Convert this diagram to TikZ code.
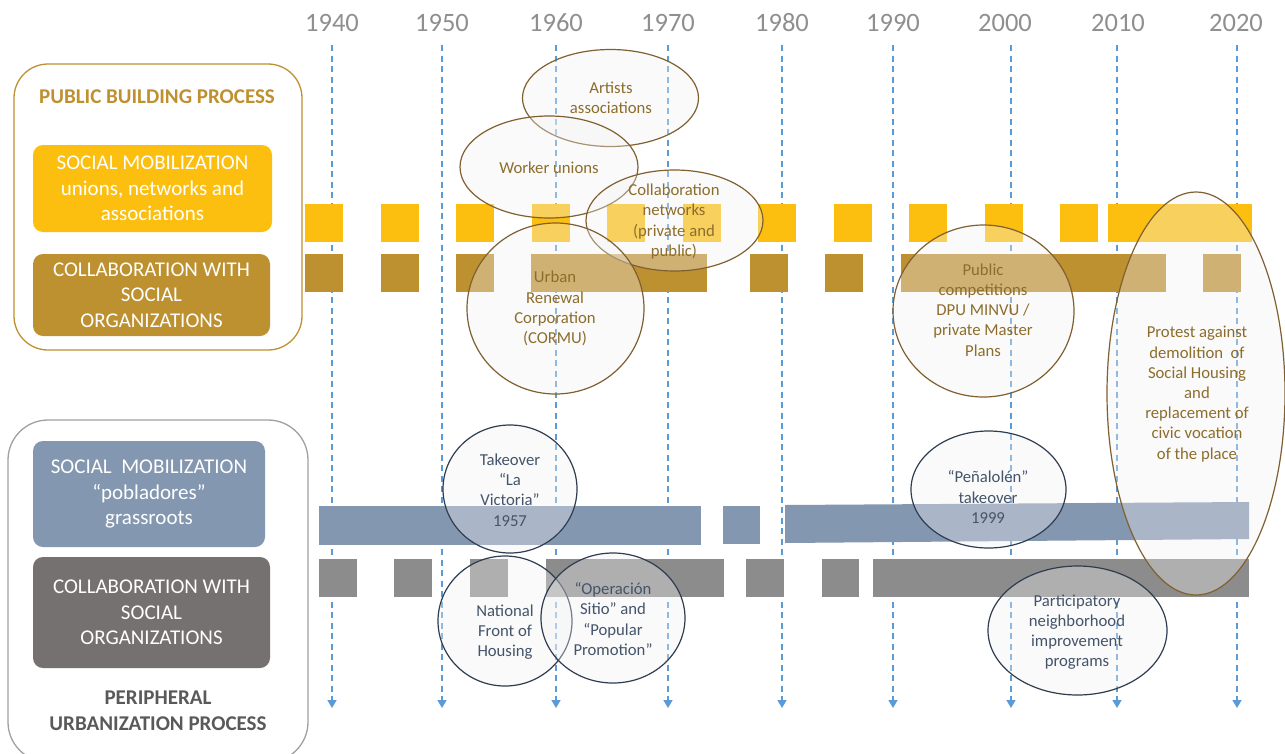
\documentclass[tikz,border=0pt]{standalone}
\usepackage{fontspec}
\setmainfont{Carlito}
\usetikzlibrary{shapes.geometric,arrows.meta}
\definecolor{goldtxt}{HTML}{BF9030}
\definecolor{ycol}{HTML}{FCBF10}
\definecolor{bcol}{HTML}{BD9130}
\definecolor{blcol}{HTML}{8497B0}
\definecolor{gcol}{HTML}{8C8C8C}
\definecolor{gbox}{HTML}{767171}
\definecolor{ebrown}{HTML}{806030}
\definecolor{etxtbrown}{HTML}{8C6D2C}
\definecolor{enavy}{HTML}{2F3D50}
\definecolor{etxtnavy}{HTML}{44546A}
\definecolor{gline}{HTML}{A0A0A0}
\definecolor{yeartxt}{HTML}{8F8F8F}
\definecolor{dblue}{HTML}{5B9BD5}
\definecolor{efill}{HTML}{F2F2F2}
\definecolor{pergray}{HTML}{595959}
\begin{document}
\begin{tikzpicture}[x=1pt,y=-1pt,
  yearlbl/.style={text=yeartxt,font=\fontsize{26.5}{30}\selectfont,inner sep=0pt},
  dline/.style={dblue,line width=1.5pt,dash pattern=on 6pt off 4.5pt,-{Triangle[width=9pt,length=8pt]}},
  boxtxt/.style={rounded corners=10pt,text=white,align=center,font=\fontsize{21}{25.5}\selectfont,inner sep=0pt},
  ell/.style={ellipse,draw,line width=1.2pt,fill=efill,fill opacity=0.35,inner sep=0pt},
  topell/.style={ell,draw=ebrown},
  botell/.style={ell,draw=enavy},
  toptxt/.style={text=etxtbrown,align=center,font=\fontsize{16.7}{20.2}\selectfont,inner sep=0pt},
  bottxt/.style={text=etxtnavy,align=center,font=\fontsize{16.7}{20.2}\selectfont,inner sep=0pt},
  headtxt/.style={align=center,font=\fontsize{21}{26}\selectfont\bfseries,inner sep=0pt},
  ybarf/.style={fill=ycol},
  bbarf/.style={fill=bcol},
  gbarf/.style={fill=gcol},
  blbarf/.style={fill=blcol}
]
\useasboundingbox (0,0) rectangle (1285,753);
\fill[white] (0,0) rectangle (1285,753);

% year labels
\foreach \yr/\xl in {1940/332,1950/442,1960/556,1970/668,1980/782,1990/893,2000/1005,2010/1118,2020/1236}
  \node[yearlbl] (y\yr) at (\xl,23) {\yr};

% dashed arrows
\foreach \yr/\xd in {1940/332,1950/442,1960/556,1970/668,1980/782,1990/893,2000/1011,2010/1117,2020/1237}{
  \coordinate (t\yr) at (\xd,45);
  \coordinate (b\yr) at (\xd,708);
  \draw[dline] (t\yr) -- (b\yr);
}

% left frames
\node[draw=goldtxt,line width=1.3pt,rounded corners=34pt,minimum width=288pt,minimum height=286pt,inner sep=0pt] (pbframe) at (158,207) {};
\node[headtxt,text=goldtxt] (pbhead) at (157,97) {PUBLIC BUILDING PROCESS};
\node[boxtxt,fill=ycol,minimum width=239pt,minimum height=87pt] (smy) at (152.5,188.5) {SOCIAL MOBILIZATION\\unions, networks and\\associations};
\node[boxtxt,fill=bcol,minimum width=237pt,minimum height=82pt] (cwb) at (151.5,295) {COLLABORATION WITH\\SOCIAL\\ORGANIZATIONS};

\node[draw=gline,line width=1.3pt,rounded corners=40pt,minimum width=300pt,minimum height=342pt,inner sep=0pt] (puframe) at (158,591) {};
\node[boxtxt,fill=blcol,minimum width=232pt,minimum height=106pt] (smb) at (149,494) {SOCIAL\ \ MOBILIZATION\\“pobladores”\\grassroots};
\node[boxtxt,fill=gbox,minimum width=237pt,minimum height=111pt] (cwg) at (151.5,612.5) {COLLABORATION WITH\\SOCIAL\\ORGANIZATIONS};
\node[headtxt,text=pergray] (puhead) at (158,711) {PERIPHERAL\\URBANIZATION PROCESS};

% yellow bars
\foreach \xa in {305,380.5,456,531.5,607,683,758,834,909,985,1060}
  \path[ybarf] (\xa,204) rectangle ++(38,38);
\path[ybarf] (1108,204) rectangle (1252,242);

% brown bars
\foreach \xa/\xb in {305/343,380.5/418.5,456/494,531/707,750/788,825/863,901/1166,1203/1241}
  \path[bbarf] (\xa,254) rectangle (\xb,292);

% blue bars
\path[blbarf] (319,506) rectangle (701,545);
\path[blbarf] (723,506) rectangle (760,544);
\path[blbarf] (785,505) -- (1249,502) -- (1249,539) -- (785,543) -- cycle;

% gray bars
\foreach \xa/\xb in {319/357,394/432,470/508,546/724,746/784,822/859,873/1249}
  \path[gbarf] (\xa,559) rectangle (\xb,597);

% top ellipses
\node[topell,minimum width=176pt,minimum height=97pt] (artE) at (610.5,98) {};
\node[topell,minimum width=178pt,minimum height=102pt] (wrkE) at (549,167) {};
\node[topell,minimum width=177pt,minimum height=101pt] (colE) at (674.5,220.5) {};
\node[topell,minimum width=177pt,minimum height=171pt] (corE) at (555.5,308.5) {};
\node[topell,minimum width=181pt,minimum height=172pt] (pubE) at (983.5,311) {};
\node[topell,minimum width=178pt,minimum height=403pt] (proE) at (1196,393.5) {};

% bottom ellipses
\node[botell,minimum width=134pt,minimum height=128pt] (vicE) at (510,489) {};
\node[botell,minimum width=155pt,minimum height=117pt] (penE) at (988.5,489.5) {};
\node[botell,minimum width=134pt,minimum height=130pt] (natE) at (505,621) {};
\node[botell,minimum width=144pt,minimum height=130pt] (opeE) at (613,618) {};
\node[botell,minimum width=179pt,minimum height=129pt] (parE) at (1077.5,630.5) {};

% texts
\node[toptxt] (artT) at (611,97.5) {Artists\\associations};
\node[toptxt] (wrkT) at (549,168) {Worker unions};
\node[toptxt] (colT) at (674,221.5) {Collaboration\\networks\\(private and\\public)};
\node[toptxt] (corT) at (555,308.5) {Urban\\Renewal\\Corporation\\(CORMU)};
\node[toptxt] (pubT) at (983,310) {Public\\competitions\\DPU MINVU /\\private Master\\Plans};
\node[toptxt] (proT) at (1197,394) {Protest against\\demolition\ \ of\\Social Housing\\and\\replacement of\\civic vocation\\of the place};

\node[bottxt] (vicT) at (510,490) {Takeover\\“La\\Victoria”\\1957};
\node[bottxt] (penT) at (988,497) {“Peñalolén”\\takeover\\1999};
\node[bottxt] (natT) at (505,632) {National\\Front of\\Housing};
\node[bottxt] (opeT) at (613,619) {“Operación\\Sitio” and\\“Popular\\Promotion”};
\node[bottxt] (parT) at (1077,632) {Participatory\\neighborhood\\improvement\\programs};
\end{tikzpicture}
\end{document}
